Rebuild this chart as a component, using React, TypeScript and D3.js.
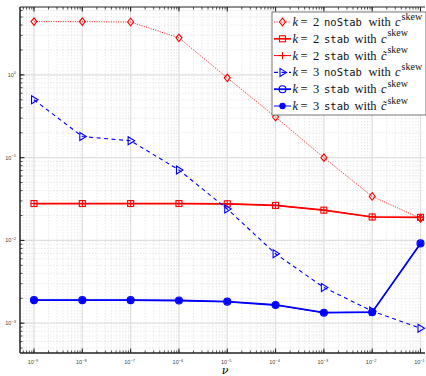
import React from 'react';
import * as d3 from 'd3';

// viscosity values (x axis)
const nu = [1e-9, 1e-8, 1e-7, 1e-6, 1e-5, 1e-4, 1e-3, 1e-2, 1e-1];

// errors per series
const k2NoStab = [4.4, 4.4, 4.35, 2.8, 0.92, 0.31, 0.1, 0.034, 0.0185];
const k2Stab = [0.0279, 0.0279, 0.0279, 0.0279, 0.0277, 0.0265, 0.0232, 0.0192, 0.019];
const k2StabTilde = [0.0279, 0.0279, 0.0279, 0.0279, 0.0277, 0.0265, 0.0232, 0.0192, 0.019];
const k3NoStab = [0.5, 0.18, 0.16, 0.071, 0.024, 0.0069, 0.0027, 0.0014, 0.00087];
const k3Stab = [0.0019, 0.0019, 0.0019, 0.00188, 0.00182, 0.00166, 0.00134, 0.00136, 0.0092];
const k3StabTilde = [0.0019, 0.0019, 0.0019, 0.00188, 0.00182, 0.00166, 0.00134, 0.00136, 0.0092];

const xTickExps = [-9, -8, -7, -6, -5, -4, -3, -2, -1];
const yTickExps = [0, -1, -2, -3];

const legendRows = [
  { k: '2', code: 'noStab', tilde: false },
  { k: '2', code: 'stab', tilde: false },
  { k: '2', code: 'stab', tilde: true },
  { k: '3', code: 'noStab', tilde: false },
  { k: '3', code: 'stab', tilde: false },
  { k: '3', code: 'stab', tilde: true },
];

const RED = '#ff0000';
const BLUE = '#0000ff';

type Marker = 'diamond' | 'square' | 'plus' | 'triangle' | 'circle' | 'dot';

const series: { values: number[]; color: string; dash: string; width: number; marker: Marker }[] = [
  { values: k2NoStab, color: RED, dash: '1.2,1.2', width: 0.8, marker: 'diamond' },
  { values: k2Stab, color: RED, dash: '', width: 1.7, marker: 'square' },
  { values: k2StabTilde, color: RED, dash: '', width: 1, marker: 'plus' },
  { values: k3NoStab, color: BLUE, dash: '4,3.5', width: 1.1, marker: 'triangle' },
  { values: k3Stab, color: BLUE, dash: '', width: 1.8, marker: 'circle' },
  { values: k3StabTilde, color: BLUE, dash: '', width: 1, marker: 'dot' },
];

const drawMarker = (m: Marker, x: number, y: number, color: string, key: string) => {
  switch (m) {
    case 'diamond':
      return <path key={key} d={`M${x},${y - 3.8}L${x + 3},${y}L${x},${y + 3.8}L${x - 3},${y}Z`} fill="none" stroke={color} strokeWidth={1.1} />;
    case 'square':
      return <rect key={key} x={x - 3} y={y - 3} width={6} height={6} fill="none" stroke={color} strokeWidth={1.1} />;
    case 'plus':
      return <path key={key} d={`M${x - 3.5},${y}H${x + 3.5}M${x},${y - 3.5}V${y + 3.5}`} stroke={color} strokeWidth={1} />;
    case 'triangle':
      return <path key={key} d={`M${x + 4},${y}L${x - 2.5},${y - 4}L${x - 2.5},${y + 4}Z`} fill="none" stroke={color} strokeWidth={1.1} />;
    case 'circle':
      return <circle key={key} cx={x} cy={y} r={3.5} fill="none" stroke={color} strokeWidth={1.1} />;
    case 'dot':
      return <circle key={key} cx={x} cy={y} r={3.2} fill={color} />;
  }
};

const SERIF = "'Liberation Serif', 'DejaVu Serif', serif";
const MONO = "'DejaVu Sans Mono', 'Liberation Mono', monospace";

const App = () => {
  const width = 426;
  const height = 376;
  const m = { left: 20, right: 425, top: 7, bottom: 353 };

  const x = d3.scaleLog().domain([Math.pow(10, -9.29), Math.pow(10, -0.907)]).range([m.left, m.right]);
  const y = d3.scaleLog().domain([Math.pow(10, -3.36), Math.pow(10, 0.82)]).range([m.bottom, m.top]);

  const minorX: number[] = [];
  for (let e = -10; e <= 0; e++) for (let d = 1; d <= 9; d++) {
    const v = d * Math.pow(10, e);
    if (v >= x.domain()[0] && v <= x.domain()[1]) minorX.push(v);
  }
  const minorY: number[] = [];
  for (let e = -4; e <= 1; e++) for (let d = 1; d <= 9; d++) {
    const v = d * Math.pow(10, e);
    if (v >= y.domain()[0] && v <= y.domain()[1]) minorY.push(v);
  }

  const line = d3.line<number>().x((_, i) => x(nu[i])).y(d => y(d));

  const lg = { x: 272, y: 12, w: 154, h: 103, row: 16.8 };

  return (
    <svg width={width} height={height} style={{ position: 'absolute', left: 0, top: 0, background: '#fff' }}>
      <rect x={m.left} y={m.top} width={m.right - m.left} height={m.bottom - m.top} fill="#fff" />
      {/* minor grid */}
      {minorX.map((v, i) => (
        <line key={'gx' + i} x1={x(v)} x2={x(v)} y1={m.top} y2={m.bottom} stroke="#dcdcdc" strokeWidth={0.6} strokeDasharray="1.5,1.5" />
      ))}
      {minorY.map((v, i) => (
        <line key={'gy' + i} x1={m.left} x2={m.right} y1={y(v)} y2={y(v)} stroke="#dcdcdc" strokeWidth={0.6} strokeDasharray="1.5,1.5" />
      ))}
      {/* major grid */}
      {xTickExps.map(e => (
        <line key={'Gx' + e} x1={x(Math.pow(10, e))} x2={x(Math.pow(10, e))} y1={m.top} y2={m.bottom} stroke="#e0e0e0" strokeWidth={1.2} />
      ))}
      {yTickExps.map(e => (
        <line key={'Gy' + e} x1={m.left} x2={m.right} y1={y(Math.pow(10, e))} y2={y(Math.pow(10, e))} stroke="#e0e0e0" strokeWidth={1.2} />
      ))}

      {/* series */}
      {series.map((s, si) => (
        <g key={'s' + si}>
          <path d={line(s.values) || ''} fill="none" stroke={s.color} strokeWidth={s.width} strokeDasharray={s.dash} />
          {s.values.map((v, i) => drawMarker(s.marker, x(nu[i]), y(v), s.color, `m${si}-${i}`))}
        </g>
      ))}

      {/* axes box */}
      <line x1={m.left} x2={m.right} y1={m.top} y2={m.top} stroke="#222" strokeWidth={1} />
      <line x1={m.left} x2={m.left} y1={m.top} y2={m.bottom} stroke="#222" strokeWidth={1.5} />
      <line x1={m.left} x2={m.right} y1={m.bottom} y2={m.bottom} stroke="#222" strokeWidth={1.5} />
      {minorX.map((v, i) => (
        <g key={'tx' + i}>
          <line x1={x(v)} x2={x(v)} y1={m.bottom} y2={m.bottom - 2.5} stroke="#222" strokeWidth={0.8} />
          <line x1={x(v)} x2={x(v)} y1={m.top} y2={m.top + 2.5} stroke="#222" strokeWidth={0.8} />
        </g>
      ))}
      {xTickExps.map(e => (
        <g key={'TX' + e}>
          <line x1={x(Math.pow(10, e))} x2={x(Math.pow(10, e))} y1={m.bottom} y2={m.bottom - 4.5} stroke="#222" strokeWidth={1} />
          <line x1={x(Math.pow(10, e))} x2={x(Math.pow(10, e))} y1={m.top} y2={m.top + 4.5} stroke="#222" strokeWidth={1} />
          <text x={x(Math.pow(10, e)) - 1} y={m.bottom + 11} fontSize={5.5} fill="#444" fontFamily="Helvetica, Arial, sans-serif" textAnchor="middle">
            10<tspan dy={-2.5} fontSize={4}>{'\u2212' + -e}</tspan>
          </text>
        </g>
      ))}
      {minorY.map((v, i) => (
        <line key={'ty' + i} x1={m.left} x2={m.left + 2.5} y1={y(v)} y2={y(v)} stroke="#222" strokeWidth={0.8} />
      ))}
      {yTickExps.map(e => (
        <g key={'TY' + e}>
          <line x1={m.left} x2={m.left + 4.5} y1={y(Math.pow(10, e))} y2={y(Math.pow(10, e))} stroke="#222" strokeWidth={1} />
          <text x={m.left - 4} y={y(Math.pow(10, e)) + 2} fontSize={5.5} fill="#444" fontFamily="Helvetica, Arial, sans-serif" textAnchor="end">
            10<tspan dy={-2.5} fontSize={4}>{e === 0 ? '0' : '\u2212' + -e}</tspan>
          </text>
        </g>
      ))}
      <text x={225} y={374} fontSize={11} fontStyle="italic" fontFamily="'DejaVu Serif', serif" textAnchor="middle">ν</text>

      {/* legend */}
      <rect x={lg.x} y={lg.y} width={lg.w} height={lg.h} fill="#fff" stroke="#555" strokeWidth={0.8} />
      {legendRows.map((r, i) => {
        const s = series[i];
        const cy = lg.y + 10 + i * lg.row;
        const by = cy + 4;
        const codeW = r.code.length * 6.35;
        const withX = 324 + codeW + (r.code.length > 4 ? 6.5 : 5);
        return (
          <g key={'lg' + i} fill="#111">
            <line x1={lg.x + 2} x2={lg.x + 19} y1={cy} y2={cy} stroke={s.color} strokeWidth={s.width} strokeDasharray={s.dash} />
            {drawMarker(s.marker, lg.x + 10.5, cy, s.color, 'lm' + i)}
            <text x={292.5} y={by} fontSize={12.5} fontFamily={SERIF}>
              <tspan fontStyle="italic">k</tspan>
              <tspan x={300.5}>=</tspan>
              <tspan x={313}>{r.k}</tspan>
            </text>
            <text x={324} y={by} fontSize={10.5} fontFamily={MONO}>{r.code}</text>
            <text x={withX} y={by} fontSize={12.5} fontFamily={SERIF}>
              with
              <tspan x={withX + 26.5} fontStyle="italic">{r.tilde ? 'c\u0303' : 'c'}</tspan>
              <tspan x={withX + 33} dy={-6.5} fontSize={10}>skew</tspan>
            </text>
          </g>
        );
      })}
    </svg>
  );
};

export default App;
